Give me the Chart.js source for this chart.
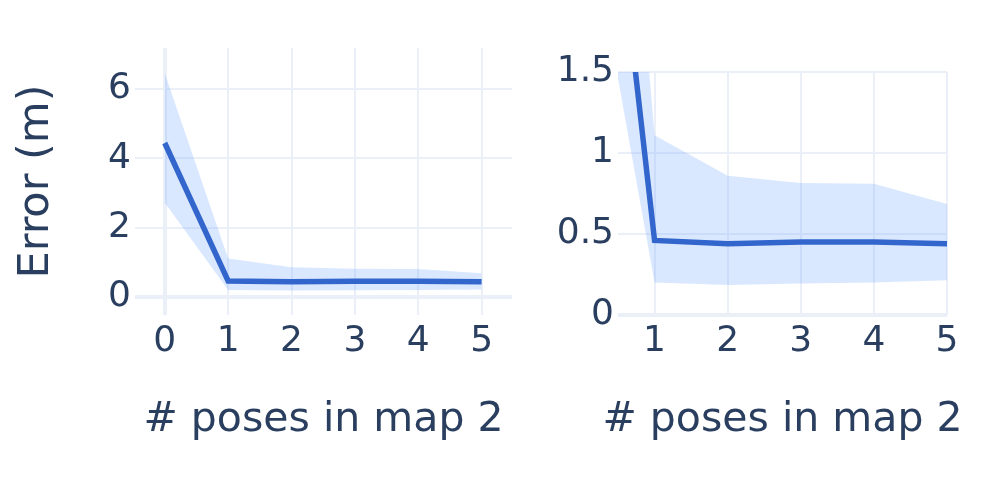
<!DOCTYPE html>
<html lang="en">
<head>
    <meta charset="UTF-8">
    <title>Error vs poses in map 2</title>
    <script src="https://cdn.jsdelivr.net/npm/chart.js"></script>
    <style>
        body { margin: 0; background: #fff; }
        .wrap { position: relative; width: 997px; height: 483px; }
        .box { position: absolute; top: 0; height: 483px; }
        #left { left: 0; width: 530px; }
        #right { left: 545px; width: 452px; }
    </style>
</head>
<body>
<div class="wrap">
    <div class="box" id="left"><canvas id="leftChart" width="530" height="483"></canvas></div>
    <div class="box" id="right"><canvas id="rightChart" width="452" height="483"></canvas></div>
</div>
<script>
    // data
    const poses = [0, 1, 2, 3, 4, 5];
    const meanErr = [4.44, 0.46, 0.44, 0.45, 0.45, 0.44];
    const upperErr = [6.45, 1.11, 0.86, 0.815, 0.81, 0.685];
    const lowerErr = [2.72, 0.2, 0.185, 0.195, 0.2, 0.215];

    const leftYTicks = [0, 2, 4, 6];
    const leftXTicks = [0, 1, 2, 3, 4, 5];
    const rightYTicks = [0, 0.5, 1, 1.5];
    const rightXTicks = [1, 2, 3, 4, 5];

    const textColor = "#2a3f5f";
    const gridColor = "#ebf0f8";
    Chart.defaults.font.family = "'DejaVu Sans', Verdana, sans-serif";
    Chart.defaults.color = textColor;

    const pts = (ys) => poses.map((x, i) => ({ x: x, y: ys[i] }));

    // the x title is wider than the plot, so give it some room (centre stays put)
    const wideTitle = {
        id: "wideTitle",
        beforeDraw(chart) {
            const s = chart.scales.x;
            s.left = s._startPixel - 60;
            s.right = s._startPixel + s._length + 60;
        }
    };

    function makeDatasets() {
        return [
            {
                data: pts(meanErr),
                borderColor: "#3366cc",
                borderWidth: 5.5,
                pointRadius: 0,
                fill: false,
                order: 0
            },
            {
                data: pts(upperErr),
                borderWidth: 0,
                pointRadius: 0,
                backgroundColor: "rgba(68, 138, 255, 0.2)",
                fill: "+1",
                order: 1
            },
            {
                data: pts(lowerErr),
                borderWidth: 0,
                pointRadius: 0,
                fill: false,
                order: 1
            }
        ];
    }

    function gridOpts() {
        return {
            color: gridColor,
            lineWidth: (c) => (c.tick && c.tick.value === 0 ? 4 : 2),
            drawTicks: false
        };
    }

    function makeChart(id, cfg) {
        return new Chart(document.getElementById(id), {
            type: "line",
            data: { datasets: makeDatasets() },
            plugins: [wideTitle],
            options: {
                responsive: false,
                animation: false,
                layout: { padding: cfg.padding },
                plugins: { legend: { display: false }, tooltip: { enabled: false } },
                scales: {
                    x: {
                        type: "linear",
                        min: cfg.xMin,
                        max: cfg.xMax,
                        grid: gridOpts(),
                        border: { display: false },
                        afterBuildTicks: (s) => { s.ticks = cfg.xTicks.map(v => ({ value: v })); },
                        afterFit: (s) => { s.height = 168; },
                        ticks: { font: { size: 36 }, padding: 5, maxRotation: 0, callback: (v) => String(v) },
                        title: {
                            display: true,
                            text: "# poses in map 2",
                            font: { size: 41 },
                            padding: { top: 0, bottom: 38 }
                        }
                    },
                    y: {
                        min: cfg.yMin,
                        max: cfg.yMax,
                        grid: gridOpts(),
                        border: { display: false },
                        afterBuildTicks: (s) => { s.ticks = cfg.yTicks.map(v => ({ value: v })); },
                        afterFit: (s) => { s.width = cfg.yWidth; },
                        ticks: { font: { size: 36 }, padding: 4, callback: (v) => String(v) },
                        title: {
                            display: cfg.yTitle !== "",
                            text: cfg.yTitle,
                            font: { size: 43 },
                            padding: { top: 11, bottom: 0 }
                        }
                    }
                }
            }
        });
    }

    makeChart("leftChart", {
        padding: { left: 0, right: 18, top: 48, bottom: 0 },
        xMin: -0.47, xMax: 5.48, xTicks: leftXTicks,
        yMin: -0.52, yMax: 7.18, yTicks: leftYTicks,
        yWidth: 135, yTitle: "Error (m)"
    });

    makeChart("rightChart", {
        padding: { left: 0, right: 50, top: 72, bottom: 0 },
        xMin: 0.5, xMax: 5, xTicks: rightXTicks,
        yMin: 0, yMax: 1.5, yTicks: rightYTicks,
        yWidth: 73, yTitle: ""
    });
</script>
</body>
</html>
